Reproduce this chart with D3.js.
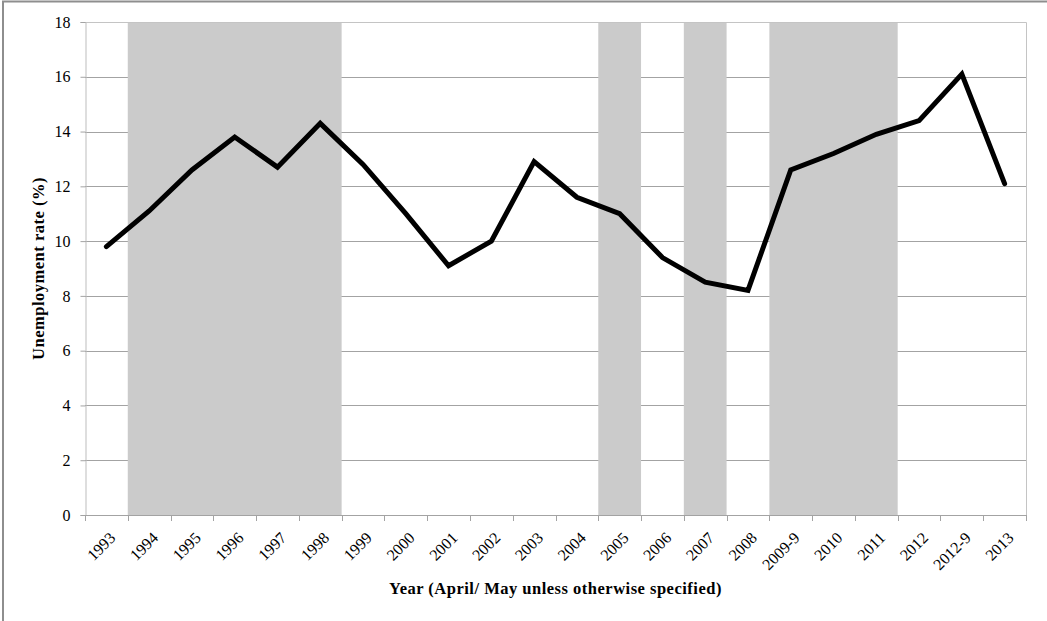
<!DOCTYPE html>
<html>
<head>
<meta charset="utf-8">
<script src="https://cdn.jsdelivr.net/npm/d3@7"></script>
<style>
  html, body { margin: 0; padding: 0; background: #fff; }
  svg { display: block; }
  text { font-family: "Liberation Serif", "DejaVu Serif", serif; fill: #000; }
</style>
</head>
<body>
<svg id="chart" width="1047" height="621"></svg>
<script>
// Survey years (April/May unless a month is given after the dash)
const years = ["1993","1994","1995","1996","1997","1998","1999","2000","2001","2002",
  "2003","2004","2005","2006","2007","2008","2009-9","2010","2011","2012","2012-9","2013"];

// Unemployment rate, %
const unemploymentRate = [9.8, 11.1, 12.6, 13.8, 12.7, 14.3, 12.8, 11.0, 9.1, 10.0,
  12.9, 11.6, 11.0, 9.4, 8.5, 8.2, 12.6, 13.2, 13.9, 14.4, 16.1, 12.1];

// Periods highlighted with grey background columns
const shadedYears = ["1994","1995","1996","1997","1998","2005","2007","2009-9","2010","2011"];

const yTicks = [0, 2, 4, 6, 8, 10, 12, 14, 16, 18];

const svg = d3.select("#chart");
const W = 1047, H = 621;
const plot = { left: 85, right: 1026, top: 22, bottom: 515 };

// Outer chart frame
svg.append("rect")
  .attr("x", 3).attr("y", 1.5)
  .attr("width", W + 10).attr("height", H + 10)
  .attr("fill", "none").attr("stroke", "#8e8e8e").attr("stroke-width", 2);

const x = d3.scaleBand().domain(years).range([plot.left, plot.right]).padding(0);
const y = d3.scaleLinear().domain([0, 18]).range([plot.bottom, plot.top]);

// Horizontal gridlines
svg.append("g")
  .selectAll("line")
  .data(yTicks.filter(t => t > 0))
  .join("line")
  .attr("x1", plot.left).attr("x2", plot.right)
  .attr("y1", d => Math.round(y(d)) + 0.5).attr("y2", d => Math.round(y(d)) + 0.5)
  .attr("stroke", "#a3a3a3").attr("stroke-width", 1);

// Shaded columns: merge adjacent highlighted years into continuous spans
const spans = [];
years.forEach((yr, i) => {
  if (!shadedYears.includes(yr)) return;
  const last = spans[spans.length - 1];
  if (last && last.end === i - 1) last.end = i;
  else spans.push({ start: i, end: i });
});
svg.append("g")
  .selectAll("rect")
  .data(spans)
  .join("rect")
  .attr("x", d => x(years[d.start]))
  .attr("y", y(18))
  .attr("width", d => x(years[d.end]) + x.bandwidth() - x(years[d.start]))
  .attr("height", y(0) - y(18))
  .attr("fill", "#cbcbcb");

// Plot border (top and right)
svg.append("path")
  .attr("d", `M${plot.left},${plot.top + 0.5}H${plot.right + 0.5}V${plot.bottom}`)
  .attr("fill", "none").attr("stroke", "#c4c4c4").attr("stroke-width", 1);

// Y axis
const yAxis = svg.append("g")
  .attr("transform", `translate(${plot.left + 0.5},0)`)
  .call(d3.axisLeft(y).tickValues(yTicks).tickSize(5).tickPadding(10).tickFormat(d3.format("d")));
yAxis.select(".domain").attr("stroke", "#bdbdbd");
yAxis.selectAll(".tick line").attr("stroke", "#a3a3a3");
yAxis.selectAll(".tick text")
  .attr("font-size", 16)
  .attr("font-family", "'Liberation Serif', serif");

// X axis: ticks at category boundaries
const boundaries = years.map(d => x(d)).concat([plot.right]);
const xAxisG = svg.append("g");
xAxisG.append("line")
  .attr("x1", plot.left).attr("x2", plot.right + 0.5)
  .attr("y1", plot.bottom + 0.5).attr("y2", plot.bottom + 0.5)
  .attr("stroke", "#a3a3a3");
xAxisG.selectAll("line.tick")
  .data(boundaries)
  .join("line")
  .attr("class", "tick")
  .attr("x1", d => Math.round(d) + 0.5).attr("x2", d => Math.round(d) + 0.5)
  .attr("y1", plot.bottom).attr("y2", plot.bottom + 6)
  .attr("stroke", "#a3a3a3");
xAxisG.selectAll("text")
  .data(years)
  .join("text")
  .attr("transform", d => `translate(${x(d) + x.bandwidth() / 2 + 6},${plot.bottom + 20}) rotate(-45)`)
  .attr("text-anchor", "end")
  .attr("dy", "0.35em")
  .attr("font-size", 16)
  .text(d => d);

// Unemployment line
const line = d3.line()
  .x((d, i) => x(years[i]) + x.bandwidth() / 2)
  .y(d => y(d));
svg.append("path")
  .datum(unemploymentRate)
  .attr("d", line)
  .attr("fill", "none")
  .attr("stroke", "#000")
  .attr("stroke-width", 5)
  .attr("stroke-linejoin", "miter")
  .attr("stroke-linecap", "round");

// Axis titles
svg.append("text")
  .attr("x", (plot.left + plot.right) / 2)
  .attr("y", 594)
  .attr("text-anchor", "middle")
  .attr("font-size", 16.5)
  .attr("letter-spacing", 0.5)
  .attr("font-weight", "bold")
  .text("Year (April/ May unless otherwise specified)");

svg.append("text")
  .attr("transform", `translate(44,${(plot.top + plot.bottom) / 2}) rotate(-90)`)
  .attr("text-anchor", "middle")
  .attr("font-size", 16.5)
  .attr("letter-spacing", 0.5)
  .attr("font-weight", "bold")
  .text("Unemployment rate (%)");
</script>
</body>
</html>
